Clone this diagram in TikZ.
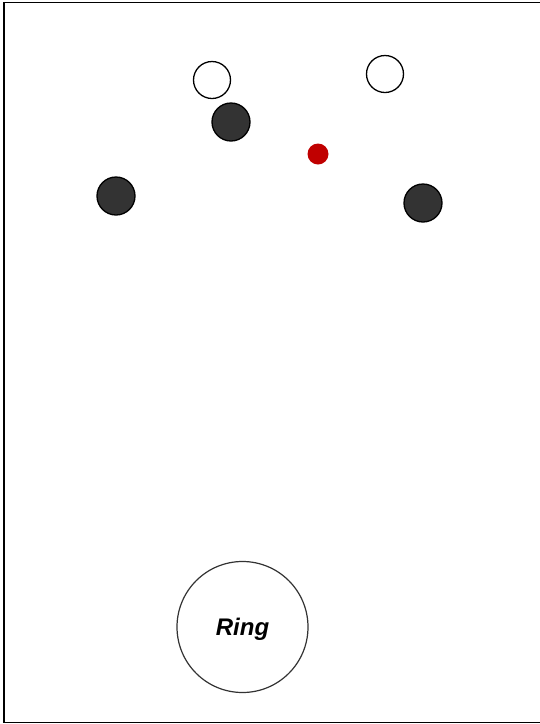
\documentclass[tikz,border=0pt]{standalone}
\usepackage{fontspec}
\setmainfont{Liberation Sans}
\usepackage{tikz}
\usetikzlibrary{positioning}
\definecolor{ballgrey}{HTML}{333333}
\definecolor{ballred}{HTML}{C00000}

\begin{document}
\begin{tikzpicture}[x=1pt,y=-1pt,
  openball/.style={circle,draw=black,fill=white,line width=1.3pt,minimum size=37pt,inner sep=0pt},
  darkball/.style={circle,draw=black,fill=ballgrey,line width=1.3pt,minimum size=38pt,inner sep=0pt},
  target/.style={circle,fill=ballred,minimum size=21pt,inner sep=0pt},
  ringnode/.style={circle,draw=ballgrey,line width=1.2pt,minimum size=131pt,inner sep=0pt,text depth=0pt,font=\bfseries\itshape\fontsize{24}{27}\selectfont}]
\useasboundingbox (0,0) rectangle (540,724);
\draw[line width=1.5pt] (4,2.5) rectangle (542,722.5);
% upper group
\node[openball] (open1) at (212,80) {};
\node[openball] (open2) at (385,74) {};
\node[darkball] (dark1) at (231,122) {};
\node[target] (red) at (318,154) {};
\node[darkball] (dark2) at (116,196) {};
\node[darkball] (dark3) at (423,203) {};
% ring
\node[ringnode] (ring) at (242.5,627) {Ring};
\end{tikzpicture}
\end{document}
